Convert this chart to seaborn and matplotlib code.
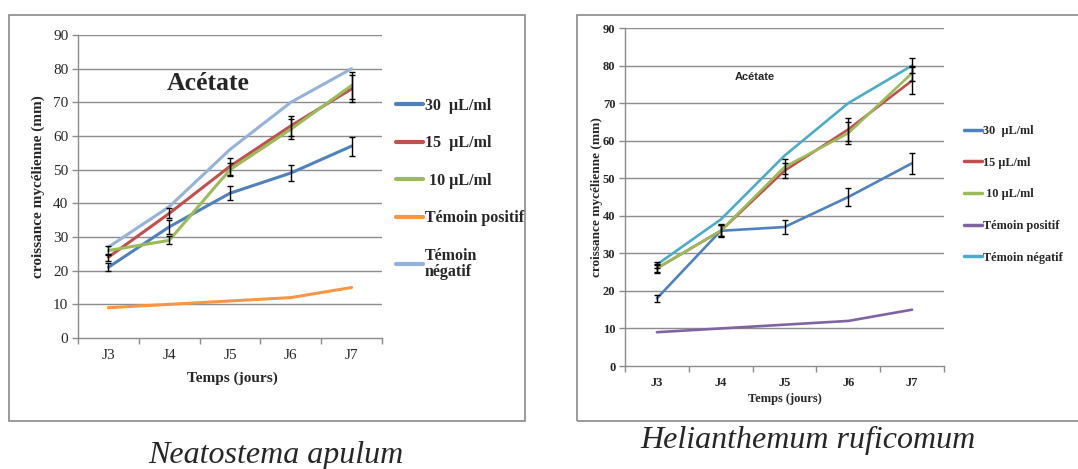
import numpy as np
import pandas as pd
import matplotlib
matplotlib.use("Agg")
import matplotlib.pyplot as plt
from matplotlib.patches import Rectangle
import seaborn as sns

# ---------------- data ----------------
days = ["J3", "J4", "J5", "J6", "J7"]

# Neatostema apulum (left)
left_labels = ["30  µL/ml", "15  µL/ml", " 10 µL/ml", "Témoin positif", "Témoin\nnégatif"]
left_c30 = [21, 33, 43, 49, 57]
left_c15 = [24, 37, 51, 63, 74]
left_c10 = [26, 29, 50, 62, 75]
left_pos = [9, 10, 11, 12, 15]
left_neg = [27, 39, 56, 70, 80]
left_err30 = [1.2, 2.0, 2.0, 2.5, 2.8]
left_err15 = [1.0, 1.5, 2.5, 3.0, 4.0]
left_err10 = [1.2, 1.2, 2.0, 3.0, 4.0]

# Helianthemum ruficomum (right)
right_labels = ["30  µL/ml", "15 µL/ml", " 10 µL/ml", "Témoin positif", "Témoin négatif"]
right_c30 = [18, 36, 37, 45, 54]
right_c15 = [26, 36, 52, 63, 76]
right_c10 = [26, 36, 53, 62, 78]
right_pos = [9, 10, 11, 12, 15]
right_neg = [27, 39, 56, 70, 80]
right_err30 = [0.9, 1.7, 1.8, 2.3, 2.8]
right_err15 = [1.0, 1.5, 2.0, 3.0, 3.7]
right_err10 = [1.2, 1.5, 2.0, 3.0, 2.0]
right_errneg = [0.8, 0.0, 0.0, 0.0, 2.0]

left_colors = ["#4F81BD", "#C0504D", "#9BBB59", "#F79646", "#95B3D7"]
right_colors = ["#4F81BD", "#C0504D", "#9BBB59", "#8064A2", "#4BACC6"]

# ---------------- style ----------------
sns.set_style("white")
plt.rcParams["font.family"] = ["Liberation Serif", "DejaVu Serif"]
SERIF = ["Liberation Serif", "DejaVu Serif"]

W, H = 1078, 469
fig = plt.figure(figsize=(W / 100, H / 100), dpi=100)


def px_axes(x0, x1, ytop, ybot):
    return fig.add_axes([x0 / W, (H - ybot) / H, (x1 - x0) / W, (ybot - ytop) / H])


def build_df(labels, series):
    rows = []
    for lab, vals in zip(labels, series):
        for d, v in zip(days, vals):
            rows.append({"jour": d, "valeur": v, "serie": lab})
    return pd.DataFrame(rows)


def draw_panel(ax, labels, series, errs, colors, lw, tick_fs, tick_bold, grid_col):
    df = build_df(labels, series)
    sns.lineplot(data=df, x="jour", y="valeur", hue="serie", hue_order=labels,
                 palette=colors, linewidth=lw, sort=False, errorbar=None,
                 ax=ax, legend=True)
    xpos = np.arange(len(days))
    for vals, err in zip(series, errs):
        if err is None:
            continue
        v = np.asarray(vals, float)
        e = np.asarray(err, float)
        m = e > 0
        ax.errorbar(xpos[m], v[m], yerr=e[m], fmt="none", ecolor="black",
                    elinewidth=1.0, capsize=2.5, capthick=1.0, zorder=5)
    ax.set_xlim(-0.5, len(days) - 0.5)
    ax.set_ylim(0, 90)
    ax.set_yticks(range(0, 91, 10))
    ax.set_xticks(np.arange(-0.5, len(days), 1.0))
    ax.set_xticklabels([])
    ax.set_xticks(xpos, minor=True)
    ax.set_xticklabels(days, minor=True)
    ax.grid(False)
    for y in range(10, 91, 10):
        ax.axhline(y, color=grid_col, lw=1.0, zorder=0)
    for s in ["top", "right"]:
        ax.spines[s].set_visible(False)
    for s in ["left", "bottom"]:
        ax.spines[s].set_color(grid_col)
        ax.spines[s].set_linewidth(1.0)
    weight = "bold" if tick_bold else "normal"
    ax.tick_params(axis="y", which="major", direction="out", length=4, width=1,
                   color=grid_col, pad=3, labelsize=tick_fs, left=True)
    ax.tick_params(axis="x", which="major", direction="out", length=4, width=1,
                   color=grid_col, bottom=True)
    ax.tick_params(axis="x", which="minor", length=0, pad=8, labelsize=tick_fs)
    for t in ax.get_yticklabels() + ax.get_xticklabels(minor=True):
        t.set_fontweight(weight)
        t.set_family(SERIF)
    ax.set_xlabel("")
    ax.set_ylabel("")
    handles, labs = ax.get_legend_handles_labels()
    ax.get_legend().remove()
    return handles, labs


# ---------------- left panel ----------------
fig.patches.append(Rectangle((9 / W, (H - 421) / H), (525 - 9) / W, (421 - 15) / H,
                             transform=fig.transFigure, fill=False,
                             edgecolor="#8a8a8a", lw=1.2))
axL = px_axes(78, 382, 35, 338)
hL, lL = draw_panel(axL, left_labels,
                    [left_c30, left_c15, left_c10, left_pos, left_neg],
                    [left_err30, left_err15, left_err10, None, None],
                    left_colors, 2.2, 11, False, "#8c8c8c")
fig.text(208 / W, (H - 84) / H, "Acétate", ha="center", va="center",
         fontsize=18.5, fontweight="bold", family=SERIF)
fig.text(38 / W, (H - 187) / H, "croissance mycélienne (mm)", rotation=90,
         ha="center", va="center", fontsize=11, fontweight="bold", family=SERIF)
fig.text(232 / W, (H - 378) / H, "Temps (jours)", ha="center", va="center",
         fontsize=11, fontweight="bold", family=SERIF)
legL = fig.legend(hL, lL, loc="upper left", bbox_to_anchor=(396 / W, (H - 98) / H),
                  bbox_transform=fig.transFigure, frameon=False, borderpad=0,
                  borderaxespad=0, handlelength=1.7, handletextpad=0.12,
                  labelspacing=1.34, prop={"family": SERIF, "weight": "bold", "size": 11.5})
for ln in legL.get_lines():
    ln.set_linewidth(3)
for t in legL.get_texts():
    t.set_linespacing(1.05)
fig.text(276 / W, (H - 455) / H, "Neatostema apulum", ha="center", va="center",
         fontsize=23, style="italic", family=SERIF)

# ---------------- right panel ----------------
fig.patches.append(Rectangle((577 / W, (H - 421) / H), (1085 - 577) / W, (421 - 15) / H,
                             transform=fig.transFigure, fill=False,
                             edgecolor="#8a8a8a", lw=1.2))
axR = px_axes(625, 944, 28, 366)
hR, lR = draw_panel(axR, right_labels,
                    [right_c30, right_c15, right_c10, right_pos, right_neg],
                    [right_err30, right_err15, right_err10, None, right_errneg],
                    right_colors, 1.9, 9, True, "#8c8c8c")
fig.text(755 / W, (H - 77) / H, "Acétate", ha="center", va="center",
         fontsize=8, fontweight="bold", family=["Liberation Sans Narrow", "Liberation Sans", "DejaVu Sans"])
fig.text(597 / W, (H - 197) / H, "croissance mycélienne (mm)", rotation=90,
         ha="center", va="center", fontsize=9.5, fontweight="bold", family=SERIF)
fig.text(785 / W, (H - 399) / H, "Temps (jours)", ha="center", va="center",
         fontsize=9, fontweight="bold", family=SERIF)
legR = fig.legend(hR, lR, loc="upper left", bbox_to_anchor=(964 / W, (H - 125) / H),
                  bbox_transform=fig.transFigure, frameon=False, borderpad=0,
                  borderaxespad=0, handlelength=1.5, handletextpad=0.08,
                  labelspacing=1.61, prop={"family": SERIF, "weight": "bold", "size": 8.8})
for ln in legR.get_lines():
    ln.set_linewidth(2.5)
fig.text(808 / W, (H - 440) / H, "Helianthemum ruficomum", ha="center", va="center",
         fontsize=23, style="italic", family=SERIF)

fig.savefig("out.png", dpi=100, facecolor="white")
